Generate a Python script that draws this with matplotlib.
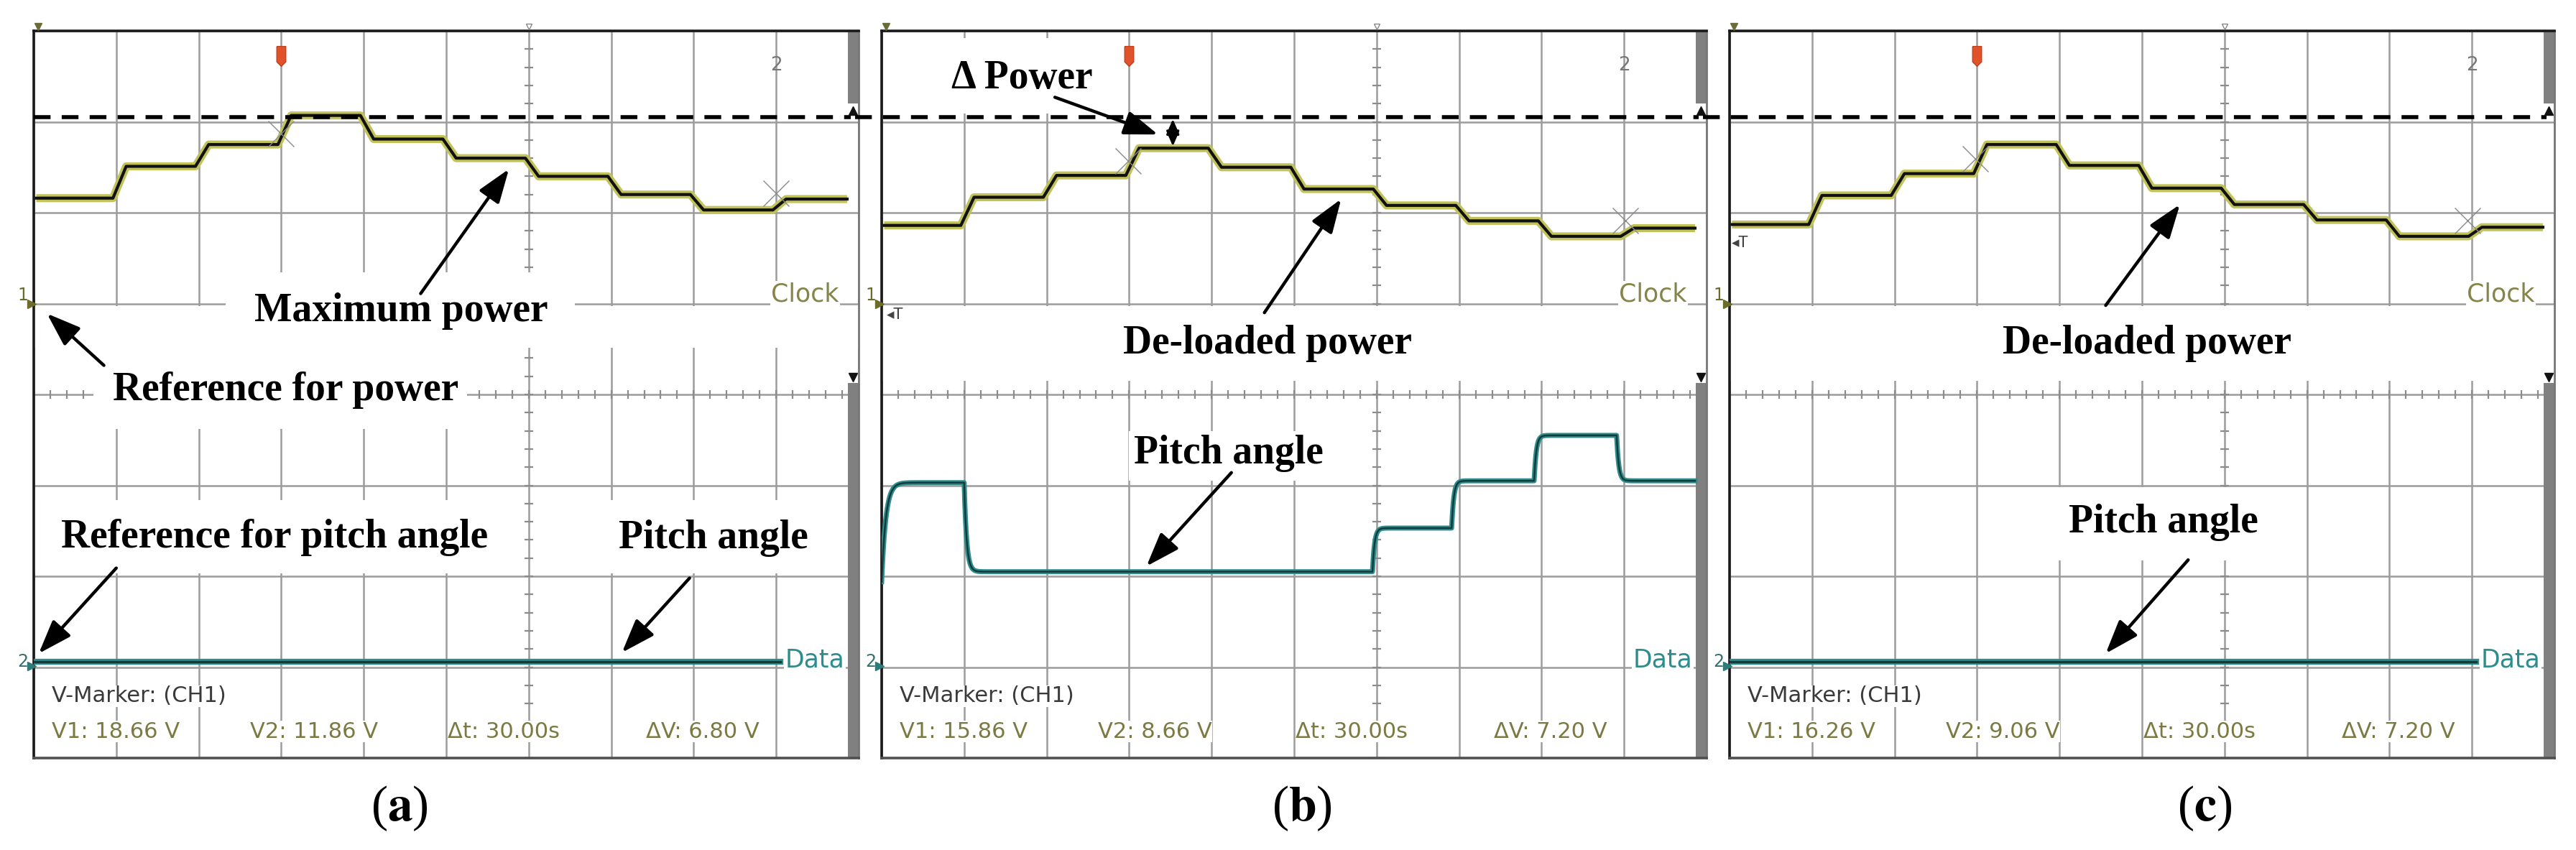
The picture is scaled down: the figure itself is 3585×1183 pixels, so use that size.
import numpy as np
import matplotlib
matplotlib.use("Agg")
import matplotlib.pyplot as plt
from matplotlib.patches import Rectangle, FancyArrowPatch

plt.rcParams['mathtext.fontset'] = 'stix'

# ---------------- data (oscilloscope divisions) ----------------
step_start = [0, 1, 2, 3, 4, 5, 6, 7, 8, 9]
power_a = [6.16, 6.51, 6.75, 7.07, 6.81, 6.60, 6.40, 6.20, 6.03, 6.15]
power_b = [5.86, 6.17, 6.41, 6.71, 6.50, 6.26, 6.08, 5.91, 5.74, 5.83]
power_c = [5.87, 6.19, 6.43, 6.75, 6.52, 6.27, 6.09, 5.92, 5.74, 5.84]
power_end = 9.86
max_power_ref = 7.05

pitch_b_switch = [1.0, 5.95, 6.91, 7.91, 8.91]
pitch_b_levels = [3.03, 2.05, 2.53, 3.05, 3.55, 3.05]
pitch_b_initial = 1.94
pitch_b_end = 9.86
pitch_flat_level = 1.06
pitch_flat_end = 9.05

v1_labels = ["V1: 18.66 V", "V1: 15.86 V", "V1: 16.26 V"]
v2_labels = ["V2: 11.86 V", "V2: 8.66 V", "V2: 9.06 V"]
dt_labels = ["\u0394t: 30.00s", "\u0394t: 30.00s", "\u0394t: 30.00s"]
dv_labels = ["\u0394V: 6.80 V", "\u0394V: 7.20 V", "\u0394V: 7.20 V"]
panel_letters = ["a", "b", "c"]

# ---------------- layout ----------------
W, H = 3585, 1183
panel_left_px = [47, 1227, 2407]
panel_w_px = 1148
top_px, bottom_px = 43, 1055
caption_x_px = [556, 1812, 3068]
caption_y_px = 1125

OLIVE = '#85854a'
TEAL = '#2f8c8c'
GRID = '#9c9c9c'
SERIF = 'Liberation Serif'


def step_trace(starts, levels, end, before=0.04, after=0.12, t0=0.03):
    xs, ys = [], []
    n = len(levels)
    for k in range(n):
        a = t0 if k == 0 else starts[k] + after
        b = end if k == n - 1 else starts[k + 1] - before
        xs += [a, b]
        ys += [levels[k], levels[k]]
    return xs, ys


def settle_trace(switch, levels, initial, end, taus):
    t = np.linspace(0.0, end, 5000)
    y = np.empty_like(t)
    bounds = [0.0] + list(switch) + [end + 1]
    prev = initial
    for k, lvl in enumerate(levels):
        a, b = bounds[k], bounds[k + 1]
        m = (t >= a) & (t < b)
        y[m] = lvl + (prev - lvl) * np.exp(-(t[m] - a) / taus[k])
        prev = lvl
    return t, y


fig = plt.figure(figsize=(W / 100, H / 100), dpi=100)
fig.patch.set_facecolor('white')

powers = [power_a, power_b, power_c]

# annotation layout per panel: (text, x, y_baseline)
texts = [
    [("Maximum power", 4.45, 4.81), ("Reference for power", 3.05, 3.94),
     ("Reference for pitch angle", 2.92, 2.32), ("Pitch angle", 8.24, 2.31)],
    [("\u0394 Power", 1.70, 7.37), ("De-loaded power", 4.68, 4.45),
     ("Pitch angle", 4.21, 3.24)],
    [("De-loaded power", 5.06, 4.45), ("Pitch angle", 5.26, 2.48)],
]
arrows = [
    [((4.69, 5.11), (5.76, 6.48)), ((0.85, 4.32), (0.16, 4.89)),
     ((1.0, 2.09), (0.06, 1.15)), ((7.95, 1.98), (7.13, 1.16))],
    [((2.10, 7.27), (3.35, 6.86)), ((4.64, 4.90), (5.57, 6.15)),
     ((4.24, 3.14), (3.21, 2.11))],
    [((4.56, 4.98), (5.46, 6.09)), ((5.56, 2.18), (4.56, 1.15))],
]
white_boxes = [
    [(2.33, 4.51, 6.56, 5.34), (0.0, 4.51, 10.0, 4.97), (0.72, 3.62, 5.25, 4.51),
     (0.0, 2.03, 5.86, 2.84), (6.69, 2.03, 9.85, 2.84)],
    [(0.64, 7.09, 2.77, 7.92), (0.0, 4.15, 10.0, 4.97), (3.0, 3.05, 5.4, 3.6)],
    [(0.0, 4.15, 10.0, 4.97), (3.76, 2.17, 6.76, 2.98)],
]
x_cursors = [[(3.0, 6.87), (9.0, 6.21)], [(2.99, 6.57), (9.02, 5.91)],
             [(2.98, 6.59), (8.95, 5.91)]]
dash_start = [0.0, -0.32, -0.32]
trigT = [None, (0.16, 4.88), (0.13, 5.67)]

trig_marker = [(-0.45, 1.0), (0.45, 1.0), (0.45, -0.55), (0.0, -1.0), (-0.45, -0.55), (-0.45, 1.0)]

for i, left in enumerate(panel_left_px):
    ax = fig.add_axes([left / W, 1 - bottom_px / H, panel_w_px / W, (bottom_px - top_px) / H])
    ax.set_xlim(0, 10)
    ax.set_ylim(0, 8)
    ax.set_xticks(np.arange(0, 11))
    ax.set_yticks(np.arange(0, 9))
    ax.tick_params(length=0, labelbottom=False, labelleft=False)
    ax.set_axisbelow(True)
    ax.grid(True, color=GRID, lw=1.8)
    for s in ['top', 'left']:
        ax.spines[s].set_color('#1a1a1a')
        ax.spines[s].set_linewidth(2.6)
    ax.spines['bottom'].set_color('#505050')
    ax.spines['bottom'].set_linewidth(2.6)
    ax.spines['right'].set_color('#777777')
    ax.spines['right'].set_linewidth(2.0)

    # center graticule with minor ticks
    mt = np.arange(0, 10.01, 0.2)
    ax.plot(mt, np.full_like(mt, 4.0), ls='none', marker='|', ms=9, mew=1.6,
            color='#8c8c8c', zorder=0.7)
    mv = np.arange(0, 8.01, 0.2)
    ax.plot(np.full_like(mv, 6.0), mv, ls='none', marker='_', ms=9, mew=1.6,
            color='#8c8c8c', zorder=0.7)

    # white label backgrounds
    for (x0, y0, x1, y1) in white_boxes[i]:
        ax.add_patch(Rectangle((x0, y0), x1 - x0, y1 - y0, facecolor='white',
                               edgecolor='none', zorder=1))

    # right scroll bars
    ax.add_patch(Rectangle((9.87, 7.2), 0.13, 0.8, facecolor='#808080', edgecolor='none',
                           zorder=1.5, clip_on=False))
    ax.add_patch(Rectangle((9.87, 0.0), 0.13, 4.13, facecolor='#808080', edgecolor='none',
                           zorder=1.5, clip_on=False))
    ax.plot([9.93], [7.12], marker='^', ms=8, color='#111111', zorder=5, clip_on=False)
    ax.plot([9.93], [4.19], marker='v', ms=8, color='#111111', zorder=5, clip_on=False)

    # top markers
    ax.plot([0.05], [8.05], marker='v', ms=7, color='#6b6b3a', zorder=5, clip_on=False)
    ax.plot([6.0], [8.05], marker='v', ms=6, mfc='none', color='#888888', zorder=5,
            clip_on=False)
    ax.text(9.0, 7.62, "2", fontsize=19, color='#777777', ha='center', va='center',
            family='DejaVu Sans', zorder=5)
    ax.plot([3.0], [7.72], marker=trig_marker, ms=20, color='#e0522a', mec='#c04020',
            zorder=5)

    # power trace
    px, py = step_trace(step_start, powers[i], power_end)
    ax.plot(px, py, color='#c2c25a', lw=8, solid_capstyle='butt', zorder=3)
    ax.plot(px, py, color='#111111', lw=3.0, zorder=3.5)

    # maximum power reference (dashed)
    ax.plot([dash_start[i], 9.9], [max_power_ref, max_power_ref], color='black', lw=4.0,
            dashes=(4.2, 2.8), zorder=4, clip_on=False)

    # pitch angle trace
    if i == 1:
        tt, yy = settle_trace(pitch_b_switch, pitch_b_levels, pitch_b_initial, pitch_b_end,
                              [0.05, 0.03, 0.025, 0.025, 0.025, 0.025])
        ax.plot(tt, yy, color=TEAL, lw=5, zorder=3)
        ax.plot(tt, yy, color='#123c3c', lw=1.8, zorder=3.5)
    else:
        ax.plot([0.0, pitch_flat_end], [pitch_flat_level, pitch_flat_level], color=TEAL,
                lw=6, zorder=3)
        ax.plot([0.0, pitch_flat_end], [pitch_flat_level, pitch_flat_level],
                color='#123c3c', lw=2.4, zorder=3.5)

    # cursor crosses
    for (cx, cy) in x_cursors[i]:
        ax.plot([cx], [cy], marker='x', ms=26, mew=1.0, color='#8a8a8a', zorder=3.6)

    # channel labels
    ax.text(8.94, 5.1, "Clock", fontsize=25, color=OLIVE, family='DejaVu Sans',
            ha='left', va='center', zorder=5,
            bbox=dict(facecolor='white', edgecolor='none', pad=1))
    ax.text(9.11, 1.08, "Data", fontsize=25, color=TEAL, family='DejaVu Sans',
            ha='left', va='center', zorder=5,
            bbox=dict(facecolor='white', edgecolor='none', pad=1))
    ax.text(-0.13, 5.0, "1", fontsize=17, color='#6b6b2a', ha='center', va='bottom',
            family='DejaVu Sans', zorder=5, clip_on=False)
    ax.plot([-0.03], [5.0], marker='>', ms=8, color='#6b6b2a', zorder=5, clip_on=False)
    ax.text(-0.13, pitch_flat_level, "2", fontsize=17, color='#3a7070', ha='center',
            va='center', family='DejaVu Sans', zorder=5, clip_on=False)
    ax.plot([-0.03], [pitch_flat_level - 0.05], marker='>', ms=8, color='#2f7a7a', zorder=5,
            clip_on=False)
    if trigT[i] is not None:
        ax.text(trigT[i][0], trigT[i][1], "\u25c2T", fontsize=15, color='#444444',
                ha='center', va='center', family='DejaVu Sans', zorder=5)

    # marker readout
    ax.text(0.22, 0.68, "V-Marker: (CH1)", fontsize=22, color='#3a3a3a',
            family='DejaVu Sans', ha='left', va='center', zorder=5,
            bbox=dict(facecolor='white', edgecolor='none', pad=0.5))
    for xx, lab in zip([0.22, 2.62, 5.02, 7.42],
                       [v1_labels[i], v2_labels[i], dt_labels[i], dv_labels[i]]):
        ax.text(xx, 0.29, lab, fontsize=22, color='#7a7a42', family='DejaVu Sans',
                ha='left', va='center', zorder=5,
                bbox=dict(facecolor='white', edgecolor='none', pad=0.5))

    # annotations
    for (t, tx, ty) in texts[i]:
        ax.text(tx, ty, t, fontsize=40, fontweight='bold', family=SERIF, color='black',
                ha='center', va='baseline', zorder=6)
    for (p0, p1) in arrows[i]:
        ax.add_patch(FancyArrowPatch(p0, p1, arrowstyle='-|>,head_length=0.9,head_width=0.32',
                                     mutation_scale=32, lw=3.2, color='black', zorder=6,
                                     shrinkA=0, shrinkB=0))
    if i == 1:
        ax.add_patch(FancyArrowPatch((3.53, max_power_ref - 0.02), (3.53, power_b[3] + 0.02),
                                     arrowstyle='<|-|>,head_length=0.7,head_width=0.3',
                                     mutation_scale=18, lw=2.4, color='black', zorder=6,
                                     shrinkA=0, shrinkB=0))

    fig.text(caption_x_px[i] / W, 1 - caption_y_px / H, "($\\mathbf{%s}$)" % panel_letters[i],
             fontsize=50, family=SERIF, ha='center', va='center')

fig.savefig("out.png", dpi=100, facecolor='white')
